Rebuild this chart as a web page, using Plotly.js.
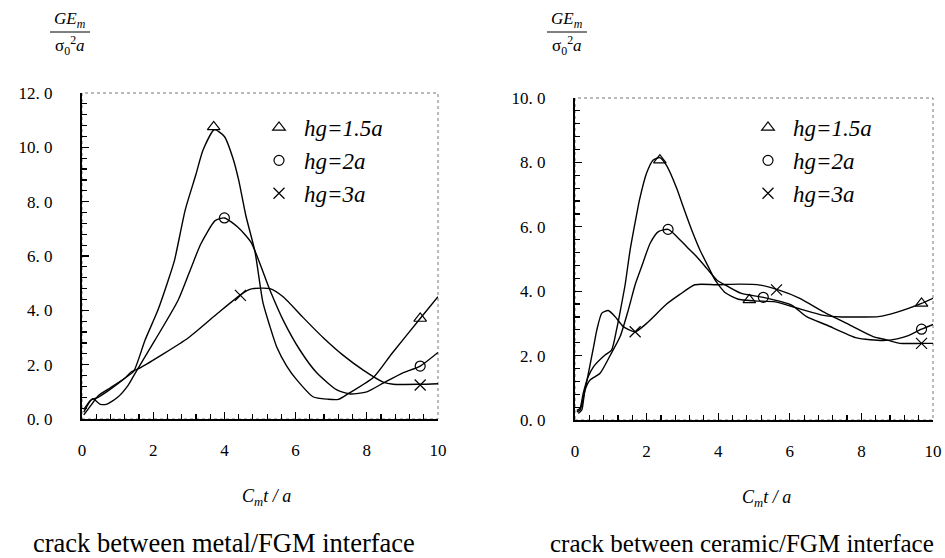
<!DOCTYPE html>
<html><head><meta charset="utf-8">
<script src="https://cdn.plot.ly/plotly-3.0.1.min.js"></script>
<style>html,body{margin:0;padding:0;background:#fff}#chart{width:945px;height:558px}</style>
</head><body><div id="chart"></div>
<script>
// ---------- data ----------
const seriesNames = ['hg=1.5a', 'hg=2a', 'hg=3a'];

// Left panel: crack between metal/FGM interface
const leftX15 = [0.05,0.25,0.45,0.8,1.2,1.45,1.77,2.13,2.42,2.6,2.9,3.2,3.4,3.72,4.0,4.24,4.4,4.6,4.86,5.08,5.28,5.47,5.75,6.04,6.5,6.9,7.2,7.5,8.2,8.7,9.5,10];
const leftY15 = [0.15,0.5,0.85,1.15,1.5,1.75,2.9,4.0,5.1,5.85,7.7,9.0,9.9,10.65,10.4,9.6,8.8,7.5,6.15,4.3,3.4,2.65,1.95,1.43,0.81,0.73,0.72,0.95,1.55,2.4,3.7,4.5];
const leftX2 = [0.05,0.3,0.5,0.7,1.0,1.3,1.5,2.05,2.7,3.06,3.34,3.74,4.0,4.38,4.75,5.28,5.65,6.12,6.6,7.16,7.53,8.0,8.46,9.0,9.5,10];
const leftY2 = [0.25,0.75,0.55,0.55,0.8,1.25,1.7,2.9,4.37,5.55,6.45,7.3,7.4,7.06,6.5,4.74,3.64,2.54,1.69,1.07,0.92,1.0,1.32,1.69,1.95,2.45];
const leftX3 = [0.05,0.25,0.45,0.8,1.2,1.38,1.66,2.98,3.82,4.44,4.66,4.8,5.28,5.65,6.2,6.77,7.33,7.9,8.46,8.74,9.5,10];
const leftY3 = [0.35,0.7,0.8,1.1,1.5,1.73,1.9,2.98,3.9,4.56,4.74,4.8,4.8,4.5,3.75,3.0,2.35,1.8,1.36,1.28,1.28,1.3];
// marker points (left)
const leftMX15 = [3.7, 9.5],  leftMY15 = [10.75, 3.7];
const leftMX2  = [4.0, 9.5],  leftMY2  = [7.4, 1.95];
const leftMX3  = [4.45, 9.5], leftMY3  = [4.55, 1.25];

// Right panel: crack between ceramic/FGM interface
const rightX15 = [0.05,0.14,0.23,0.37,0.52,0.84,1.02,1.16,1.26,1.4,1.54,1.73,1.8,2.0,2.18,2.37,2.56,2.84,3.03,3.26,3.49,3.77,3.91,4.2,4.56,5.0,5.6,6.28,6.94,7.45,8.0,8.47,9.0,9.68,10];
const rightY15 = [0.3,0.36,0.83,1.35,1.66,2.02,2.17,2.8,3.36,4.2,5.28,6.43,6.83,7.67,8.07,8.15,7.9,7.2,6.6,5.9,5.28,4.66,4.35,3.95,3.75,3.7,3.67,3.45,3.25,3.2,3.2,3.21,3.35,3.62,3.78];
const rightX2 = [0.09,0.19,0.28,0.42,0.7,0.99,1.26,1.49,1.68,1.86,2.1,2.33,2.6,2.84,3.12,3.4,3.68,3.96,4.28,4.65,5.26,6.05,6.47,7.03,7.87,8.6,9.0,9.31,9.68,10];
const rightY2 = [0.2,0.31,0.93,1.24,1.45,2.02,2.59,3.42,4.2,4.76,5.49,5.85,5.92,5.7,5.38,5.07,4.71,4.35,4.14,3.93,3.81,3.57,3.21,2.95,2.55,2.47,2.52,2.62,2.82,2.97];
const rightX3 = [0.05,0.14,0.28,0.52,0.61,0.75,0.93,1.12,1.35,1.68,2.0,2.56,2.93,3.35,3.95,4.6,5.17,5.68,6.28,6.94,7.68,8.33,8.7,9.08,9.68,10];
const rightY3 = [0.25,0.31,0.93,2.28,2.8,3.32,3.4,3.21,2.9,2.74,3.0,3.6,3.9,4.2,4.2,4.22,4.19,4.04,3.78,3.36,2.95,2.59,2.49,2.38,2.38,2.38];
// marker points (right)
const rightMX15 = [2.37, 4.87, 9.68], rightMY15 = [8.07, 3.73, 3.62];
const rightMX2  = [2.6, 5.26, 9.68],  rightMY2  = [5.92, 3.81, 2.82];
const rightMX3  = [1.68, 5.63, 9.68], rightMY3  = [2.74, 4.04, 2.38];

// ticks
const xTickVals = [0, 2, 4, 6, 8, 10];
const xTickText = ['0', '2', '4', '6', '8', '10'];
const leftYTickVals = [0, 2, 4, 6, 8, 10, 12];
const leftYTickText = ['0. 0', '2. 0', '4. 0', '6. 0', '8. 0', '10. 0', '12. 0'];
const rightYTickVals = [0, 2, 4, 6, 8, 10];
const rightYTickText = ['0. 0', '2. 0', '4. 0', '6. 0', '8. 0', '10. 0'];

const captions = ['crack between metal/FGM interface', 'crack between ceramic/FGM interface'];

// ---------- build ----------
const SERIF = 'Liberation Serif, Times New Roman, serif';
const symbols = ['triangle-up-open', 'circle-open', 'x-thin-open'];
const msizes = [11, 10, 11];

function lineTrace(x, y, xa, ya) {
  return {x, y, xaxis: xa, yaxis: ya, type: 'scatter', mode: 'lines',
    line: {color: '#000', width: 1.4, shape: 'spline', smoothing: 0.6},
    showlegend: false, hoverinfo: 'skip'};
}
function markTrace(x, y, i, xa, ya, lg) {
  return {x, y, xaxis: xa, yaxis: ya, type: 'scatter', mode: 'markers',
    name: seriesNames[i], legend: lg,
    marker: {symbol: symbols[i], size: msizes[i], color: '#000', line: {color: '#000', width: 1.2}},
    showlegend: true};
}

const data = [
  lineTrace(leftX15, leftY15, 'x', 'y'),
  lineTrace(leftX2, leftY2, 'x', 'y'),
  lineTrace(leftX3, leftY3, 'x', 'y'),
  lineTrace(rightX15, rightY15, 'x2', 'y2'),
  lineTrace(rightX2, rightY2, 'x2', 'y2'),
  lineTrace(rightX3, rightY3, 'x2', 'y2'),
  markTrace(leftMX15, leftMY15, 0, 'x', 'y', 'legend'),
  markTrace(leftMX2, leftMY2, 1, 'x', 'y', 'legend'),
  markTrace(leftMX3, leftMY3, 2, 'x', 'y', 'legend'),
  markTrace(rightMX15, rightMY15, 0, 'x2', 'y2', 'legend2'),
  markTrace(rightMX2, rightMY2, 1, 'x2', 'y2', 'legend2'),
  markTrace(rightMX3, rightMY3, 2, 'x2', 'y2', 'legend2')
];

function xAxis(domain, anchor) {
  return {domain, anchor, range: [0, 10], tickmode: 'array', tickvals: xTickVals, ticktext: xTickText,
    ticks: 'inside', ticklen: 7, tickwidth: 1.3, tickcolor: '#000',
    minor: {tickmode: 'linear', tick0: 0, dtick: 0.4, ticks: 'inside', ticklen: 5, tickwidth: 1.2, tickcolor: '#000', showgrid: false},
    showline: true, linecolor: '#000', linewidth: 2, showgrid: false, zeroline: false,
    ticklabelstandoff: 15, tickfont: {family: SERIF, size: 17, color: '#000'}, fixedrange: true};
}
function yAxis(domain, anchor, range, tv, tt) {
  return {domain, anchor, range, tickmode: 'array', tickvals: tv, ticktext: tt,
    ticks: 'inside', ticklen: 7, tickwidth: 1.3, tickcolor: '#000',
    minor: {tickmode: 'linear', tick0: 0, dtick: 0.4, ticks: 'inside', ticklen: 5, tickwidth: 1.2, tickcolor: '#000', showgrid: false},
    showline: true, linecolor: '#000', linewidth: 2, showgrid: false, zeroline: false,
    ticklabelstandoff: 24, tickfont: {family: SERIF, size: 17, color: '#000'}, fixedrange: true};
}

const W = 945, H = 558;
const px = v => v / W, py = v => 1 - v / H;

const legendBase = {font: {family: SERIF, size: 23, style: 'italic', color: '#000'},
  bgcolor: 'rgba(0,0,0,0)', borderwidth: 0, xanchor: 'left', yanchor: 'top', itemwidth: 40,
  tracegroupgap: 0};

function ann(text, x, y, size) {
  return {text, xref: 'paper', yref: 'paper', x: px(x), y: py(y), xanchor: 'center', yanchor: 'middle',
    showarrow: false, font: {family: SERIF, size, color: '#000'}};
}

const layout = {
  width: W, height: H,
  margin: {l: 0, r: 0, t: 0, b: 0},
  paper_bgcolor: '#fff', plot_bgcolor: '#fff',
  font: {family: SERIF, color: '#000'},
  xaxis: xAxis([px(82), px(438)], 'y'),
  yaxis: yAxis([py(419), py(93)], 'x', [0, 12], leftYTickVals, leftYTickText),
  xaxis2: xAxis([px(575), px(933)], 'y2'),
  yaxis2: yAxis([py(420), py(98)], 'x2', [0, 10], rightYTickVals, rightYTickText),
  legend: Object.assign({}, legendBase, {x: px(254), y: py(106)}),
  legend2: Object.assign({}, legendBase, {x: px(743), y: py(106)}),
  shapes: [
    {type: 'rect', xref: 'x domain', yref: 'y domain', x0: 0, x1: 1, y0: 0, y1: 1, layer: 'below',
     line: {color: '#777', width: 1, dash: 'dot'}},
    {type: 'rect', xref: 'x2 domain', yref: 'y2 domain', x0: 0, x1: 1, y0: 0, y1: 1, layer: 'below',
     line: {color: '#777', width: 1, dash: 'dot'}},
    {type: 'line', xref: 'paper', yref: 'paper', x0: px(50), x1: px(90), y0: py(32), y1: py(32), line: {color: '#000', width: 1}},
    {type: 'line', xref: 'paper', yref: 'paper', x0: px(547), x1: px(587), y0: py(32), y1: py(32), line: {color: '#000', width: 1}}
  ],
  annotations: [
    ann('<i>GE<sub>m</sub></i>', 70, 20, 17),
    ann('σ<sub>0</sub><sup>2</sup><i>a</i>', 70, 45, 17),
    ann('<i>GE<sub>m</sub></i>', 567, 20, 17),
    ann('σ<sub>0</sub><sup>2</sup><i>a</i>', 567, 45, 17),
    ann('<i>C<sub>m</sub>t / a</i>', 266, 497, 18),
    ann('<i>C<sub>m</sub>t / a</i>', 766, 499, 18),
    ann(captions[0], 224, 543, 26.5),
    ann(captions[1], 742, 543, 25)
  ]
};

Plotly.newPlot('chart', data, layout, {displayModeBar: false, staticPlot: true});
</script>
</body></html>
